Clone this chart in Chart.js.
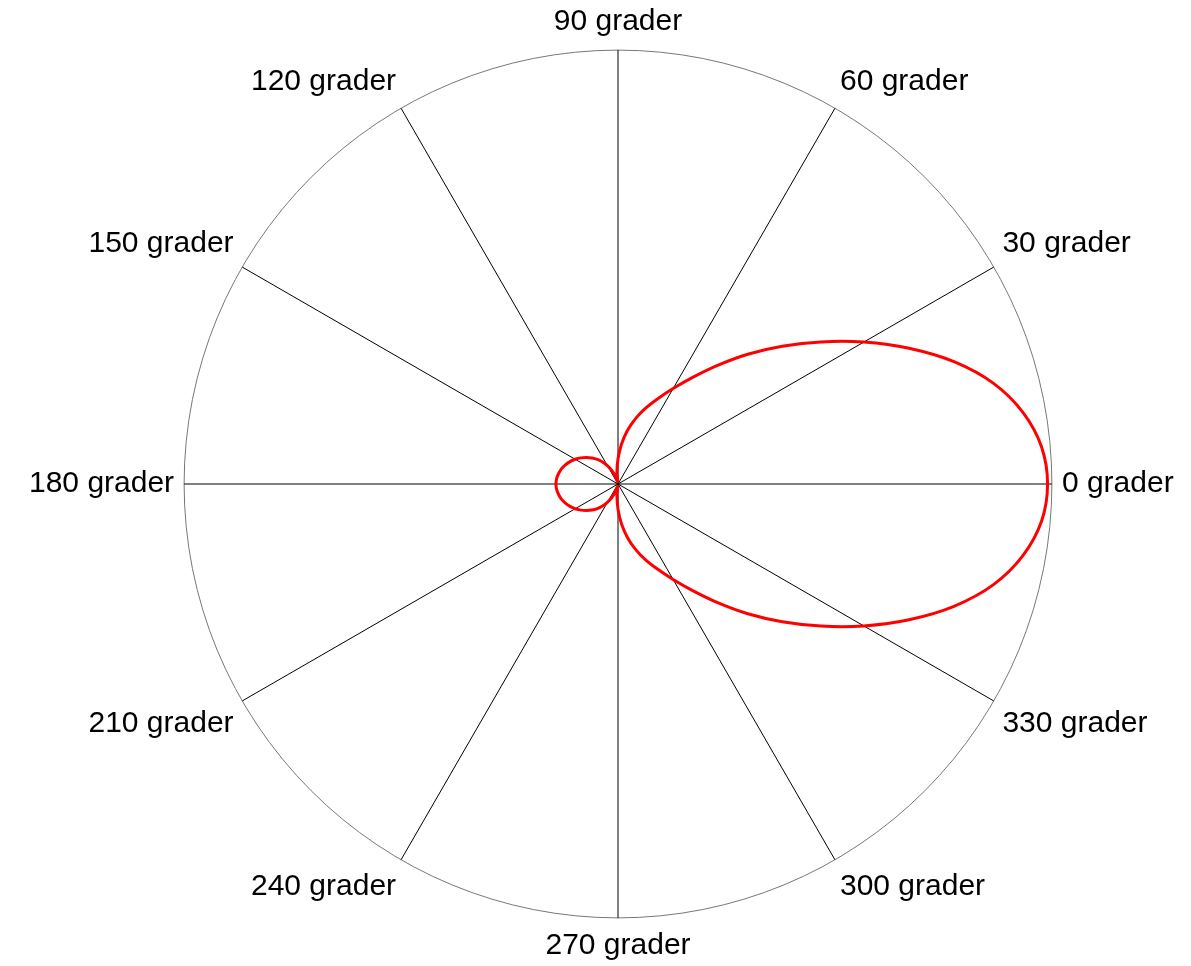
<!DOCTYPE html>
<html>
<head>
<meta charset="utf-8">
<script src="https://cdn.jsdelivr.net/npm/chart.js@4/dist/chart.umd.min.js"></script>
<style>
  html, body { margin: 0; padding: 0; background: #fff; }
  #wrap { width: 1191px; height: 966px; position: relative; }
</style>
</head>
<body>
<div id="wrap"><canvas id="polarChart"></canvas></div>
<script>
// angle in degrees, counter-clockwise from the right (0 grader)
var angles = [0, 5, 10, 15, 20, 25, 30, 35, 40, 45, 50, 55,
  60, 65, 70, 75, 80, 85, 90, 95, 100, 105, 110, 115,
  120, 125, 130, 135, 140, 145, 150, 155, 160, 165, 170, 175,
  180, 185, 190, 195, 200, 205, 210, 215, 220, 225, 230, 235,
  240, 245, 250, 255, 260, 265, 270, 275, 280, 285, 290, 295,
  300, 305, 310, 315, 320, 325, 330, 335, 340, 345, 350, 355];

// radius (outer ring = 1)
var gain = [0.990, 0.980, 0.948, 0.896, 0.824, 0.740, 0.654, 0.571, 0.494, 0.423, 0.357, 0.300,
  0.254, 0.217, 0.186, 0.156, 0.125, 0.092, 0.058, 0.028, 0.006, 0.010, 0.022, 0.035,
  0.049, 0.062, 0.074, 0.085, 0.095, 0.105, 0.114, 0.122, 0.129, 0.135, 0.139, 0.142,
  0.143, 0.142, 0.139, 0.135, 0.129, 0.122, 0.114, 0.105, 0.095, 0.085, 0.074, 0.062,
  0.049, 0.035, 0.022, 0.010, 0.006, 0.028, 0.058, 0.092, 0.125, 0.156, 0.186, 0.217,
  0.254, 0.300, 0.357, 0.423, 0.494, 0.571, 0.654, 0.740, 0.824, 0.896, 0.948, 0.980];

var labelStep = 30;
var unitText = ' grader';

// radar goes clockwise from startAngle, so walk the angles backwards
var n = angles.length;
var chartLabels = [];
var chartData = [];
for (var i = 0; i < n; i++) {
  var k = (n - i) % n;
  chartLabels.push(angles[k]);
  chartData.push(gain[k]);
}

Chart.defaults.font.family = "'Liberation Sans', Arial, sans-serif";
Chart.defaults.color = "#000";

new Chart(document.getElementById("polarChart"), {
  type: "radar",
  data: {
    labels: chartLabels,
    datasets: [{
      data: chartData,
      borderColor: "#ff0000",
      borderWidth: 3,
      fill: false,
      tension: 0.35,
      pointRadius: 0,
      pointHoverRadius: 0
    }]
  },
  options: {
    responsive: true,
    maintainAspectRatio: false,
    animation: false,
    events: [],
    layout: { padding: { left: 12, top: 3 } },
    plugins: {
      legend: { display: false },
      tooltip: { enabled: false }
    },
    scales: {
      r: {
        min: 0,
        max: 1,
        startAngle: 90,
        ticks: { display: false, stepSize: 1 },
        grid: { circular: true, color: "#777", lineWidth: 1 },
        angleLines: {
          display: true,
          lineWidth: 1,
          color: function (ctx) {
            return chartLabels[ctx.index] % labelStep === 0 ? "#000" : "rgba(0,0,0,0)";
          }
        },
        pointLabels: {
          padding: 10,
          font: { size: 30 },
          color: "#000",
          callback: function (label) {
            return label % labelStep === 0 ? label + unitText : "";
          }
        }
      }
    }
  }
});
</script>
</body>
</html>
